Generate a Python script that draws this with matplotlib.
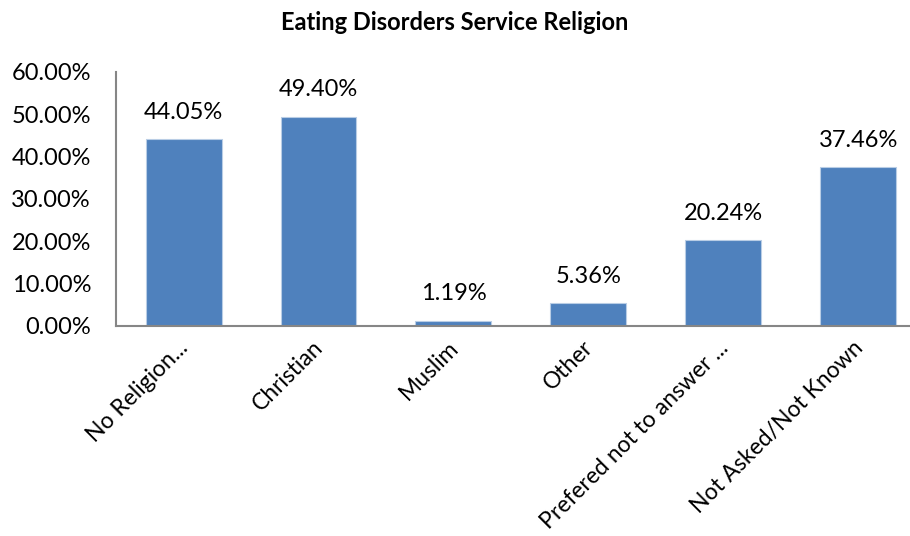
import matplotlib
matplotlib.use("Agg")
import matplotlib.pyplot as plt
from matplotlib.ticker import FuncFormatter
from matplotlib.transforms import ScaledTranslation

# Chart data
categories = ['No Religion...', 'Christian', 'Muslim', 'Other',
              'Prefered not to answer ...', 'Not Asked/Not Known']
percentages = [44.05, 49.40, 1.19, 5.36, 20.24, 37.46]
y_ticks = [0, 10, 20, 30, 40, 50, 60]

plt.rcParams['font.family'] = ['Lato', 'DejaVu Sans']

fig = plt.figure(figsize=(9.10, 5.36), dpi=100)
# axes extends a bit past the right edge, like the original export
ax = fig.add_axes([0.1275, 0.392, 0.89, 0.474])

x = range(len(categories))
bars = ax.bar(x, percentages, width=0.563, color='#4F81BD',
              edgecolor='#B9CDE5', linewidth=0.8)

for xi, v in zip(x, percentages):
    ax.text(xi, v + 3.9, f'{v:.2f}%', ha='center', va='bottom', fontsize=17)

ax.set_ylim(0, 60)
ax.set_xlim(-0.5, len(categories) - 0.5)
ax.set_yticks(y_ticks)
ax.yaxis.set_major_formatter(FuncFormatter(lambda v, p: f'{v:.2f}%'))
ax.set_xticks(list(x))
ax.set_xticklabels(categories, rotation=45, ha='right', rotation_mode='anchor',
                   fontsize=16.5)
ax.tick_params(axis='y', length=0, labelsize=17, pad=18)
ax.tick_params(axis='x', length=0, pad=8)

# nudge rotated labels left so their ends sit over the bar centres
shift = ScaledTranslation(-0.06, 0, fig.dpi_scale_trans)
for lbl in ax.get_xticklabels():
    lbl.set_transform(lbl.get_transform() + shift)

for side in ['top', 'right']:
    ax.spines[side].set_visible(False)
for side in ['left', 'bottom']:
    ax.spines[side].set_color('#868686')
    ax.spines[side].set_linewidth(1.5)

fig.text(0.5, 0.958, 'Eating Disorders Service Religion', ha='center',
         va='center', fontsize=17, fontweight='bold')

fig.savefig('out.png', dpi=100)
